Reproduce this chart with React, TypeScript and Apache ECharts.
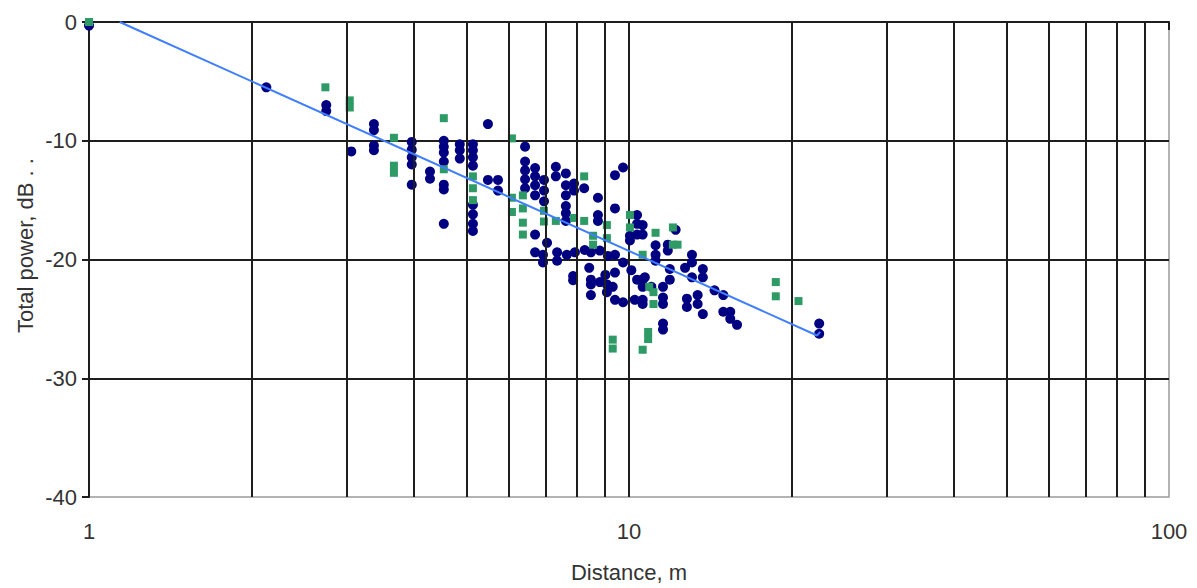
import React, { useEffect, useRef } from "react";
import * as echarts from "echarts";

// Measured points, series A (navy): [distance m, total power dB]
const seriesA: number[][] = [
  [1, -0.3], [2.13, -5.5], [2.75, -7.0], [2.75, -7.5], [3.06, -10.9],
  [3.37, -8.6], [3.37, -9.1], [3.37, -10.4], [3.37, -10.8],
  [3.96, -10.1], [3.96, -10.75], [3.96, -11.4], [3.96, -12.0], [3.96, -13.7],
  [4.28, -12.6], [4.28, -13.2],
  [4.54, -10.0], [4.54, -10.5], [4.54, -11.0], [4.54, -11.75], [4.54, -13.7], [4.54, -14.1], [4.54, -17.0],
  [4.86, -10.3], [4.86, -10.8], [4.86, -11.5],
  [5.14, -10.3], [5.14, -10.8], [5.14, -11.4], [5.14, -12.1], [5.14, -15.4], [5.14, -16.2], [5.14, -17.0], [5.14, -17.6],
  [5.48, -8.6], [5.48, -13.3], [5.72, -13.3], [5.72, -14.2],
  [6.42, -10.5], [6.42, -11.75], [6.42, -12.5], [6.42, -13.25], [6.42, -14.0],
  [6.7, -12.3], [6.7, -13.0], [6.7, -13.75], [6.7, -14.6], [6.7, -17.9], [6.7, -19.4],
  [6.96, -13.3], [6.96, -14.2], [6.96, -15.1], [7.05, -18.6], [6.93, -19.6], [6.93, -20.25],
  [7.32, -12.2], [7.32, -13.0], [7.36, -19.4], [7.36, -20.1],
  [7.64, -12.75], [7.64, -13.75], [7.64, -14.6], [7.64, -15.5], [7.64, -16.1], [7.64, -16.75], [7.67, -19.6],
  [7.91, -13.6], [7.91, -14.2], [7.94, -19.4], [7.88, -21.4], [7.88, -21.75],
  [8.26, -14.0], [8.28, -19.2],
  [8.44, -20.7], [8.5, -19.4], [8.5, -21.7], [8.5, -22.1], [8.5, -23.0],
  [8.76, -14.8], [8.76, -16.25], [8.76, -16.75], [8.83, -19.25], [8.83, -21.9],
  [9.04, -21.3], [9.1, -22.1], [9.1, -22.75], [9.14, -19.7],
  [9.42, -12.9], [9.75, -12.25], [9.42, -15.7], [9.42, -19.6], [9.42, -21.1], [9.33, -22.3], [9.42, -23.4],
  [9.75, -20.25], [9.75, -23.6],
  [10.04, -18.0], [10.04, -18.4], [10.1, -20.9],
  [10.35, -16.25], [10.35, -17.0], [10.35, -17.9], [10.35, -21.7], [10.25, -23.4],
  [10.6, -17.1], [10.6, -17.9], [10.6, -21.7], [10.6, -22.3], [10.6, -23.4], [10.6, -23.75],
  [10.7, -21.5], [11.0, -22.3],
  [11.2, -18.8], [11.2, -19.6], [11.2, -20.1],
  [11.56, -22.3], [11.56, -23.2], [11.56, -23.75], [11.56, -25.4], [11.56, -25.9],
  [11.8, -18.75], [11.8, -19.25], [11.9, -20.8], [11.9, -21.7],
  [12.2, -17.5], [12.7, -20.7],
  [13.08, -19.6], [13.08, -20.25], [13.08, -21.5],
  [12.8, -23.3], [12.8, -24.0], [13.4, -23.0], [13.4, -23.75],
  [13.7, -20.8], [13.7, -21.5], [13.7, -24.6],
  [14.4, -22.6], [14.95, -23.0], [14.95, -24.4],
  [15.4, -24.4], [15.4, -25.0], [15.85, -25.5],
  [22.5, -25.4], [22.5, -26.25],
];

// Measured points, series B (green squares)
const seriesB: number[][] = [
  [1, 0], [2.74, -5.5], [3.04, -6.6], [3.04, -7.2],
  [3.67, -9.75], [3.67, -12.1], [3.67, -12.7],
  [4.54, -8.1], [4.54, -12.4],
  [5.14, -13.0], [5.14, -14.0], [5.14, -15.0],
  [6.07, -9.8], [6.07, -14.8], [6.07, -16.0],
  [6.36, -14.6], [6.36, -15.7], [6.36, -16.9], [6.36, -17.9],
  [6.96, -15.9], [6.96, -16.8], [7.32, -16.75], [7.91, -16.5],
  [8.26, -13.0], [8.26, -16.75],
  [8.58, -18.0], [8.58, -18.75], [9.1, -17.1], [9.1, -18.2],
  [9.33, -26.75], [9.33, -27.5],
  [10.04, -16.25], [10.04, -17.3],
  [10.6, -19.6], [10.6, -27.6], [10.85, -26.1], [10.85, -26.7],
  [10.9, -22.3], [11.1, -22.75], [11.1, -23.75],
  [11.2, -17.75], [12.06, -17.3], [12.06, -18.75], [12.3, -18.75],
  [18.7, -21.9], [18.7, -23.1], [20.6, -23.5],
];

// Fitted trend line
const trendLine: number[][] = [
  [1.14, 0], [22.3, -26.4], [22.6, -26.1],
];

// Vertical minor grid positions on the log axis
const minorGridX: number[] = [2, 3, 4, 5, 6, 7, 8, 9, 20, 30, 40, 50, 60, 70, 80, 90];

const xTickLabels: string[] = ["1", "10", "100"];
const yAxisTitle = "Total power, dB . .";
const xAxisTitle = "Distance, m";

const FONT = "'Liberation Sans', Arial, sans-serif";
const TEXT_COLOR = "#333";
const GRID_COLOR = "#1e1e1e";

export default function App() {
  const ref = useRef<HTMLDivElement>(null);
  useEffect(() => {
    if (!ref.current) return;
    const chart = echarts.init(ref.current, undefined, { renderer: "svg" });
    chart.setOption({
      animation: false,
      backgroundColor: "#fff",
      grid: {
        left: 89, top: 22, width: 1080, height: 480,
        show: true, borderColor: "#9a9a9a", borderWidth: 1.5, backgroundColor: "transparent",
      },
      xAxis: {
        type: "log", logBase: 10, min: 1, max: 100,
        name: xAxisTitle, nameLocation: "middle", nameGap: 64,
        nameTextStyle: { fontFamily: FONT, fontSize: 22, color: TEXT_COLOR },
        axisLine: { show: true, lineStyle: { color: GRID_COLOR, width: 2 } },
        axisTick: { show: true, length: 8, lineStyle: { color: GRID_COLOR, width: 2 } },
        axisLabel: {
          fontFamily: FONT, fontSize: 22, color: TEXT_COLOR, margin: 23,
          formatter: (v: number) => {
            const s = String(Math.round(v));
            return xTickLabels.indexOf(s) >= 0 ? s : "";
          },
        },
        splitLine: { show: true, showMinLine: false, showMaxLine: false, lineStyle: { color: GRID_COLOR, width: 2 } },
      },
      yAxis: {
        type: "value", min: -40, max: 0, interval: 10,
        axisLine: { show: true, lineStyle: { color: GRID_COLOR, width: 2 } },
        axisTick: { show: true, length: 7, lineStyle: { color: GRID_COLOR, width: 2 } },
        axisLabel: { fontFamily: FONT, fontSize: 22, color: TEXT_COLOR, margin: 12 },
        splitLine: { show: true, showMinLine: false, showMaxLine: false, lineStyle: { color: GRID_COLOR, width: 2 } },
      },
      graphic: [
        {
          type: "text", x: 25, y: 333, rotation: Math.PI / 2,
          style: {
            text: yAxisTitle, fill: TEXT_COLOR, fontFamily: FONT, fontSize: 22,
            align: "left", verticalAlign: "middle",
          },
        },
      ],
      series: [
        {
          type: "scatter", data: [], z: 1, silent: true,
          markLine: {
            silent: true, symbol: "none", label: { show: false },
            lineStyle: { color: GRID_COLOR, width: 2, type: "solid" },
            data: minorGridX.map((v) => ({ xAxis: v })),
          },
        },
        {
          name: "A", type: "scatter", data: seriesA, z: 3,
          symbol: "circle", symbolSize: 10,
          itemStyle: { color: "#000080", opacity: 1 },
        },
        {
          name: "B", type: "scatter", data: seriesB, z: 4,
          symbol: "rect", symbolSize: [8, 8],
          itemStyle: { color: "#2e9a66", opacity: 1 },
        },
        {
          name: "Trend", type: "line", data: trendLine, z: 5,
          symbol: "none", lineStyle: { color: "#3f7fff", width: 2 },
        },
      ],
    });
    return () => chart.dispose();
  }, []);
  return (
    <div
      ref={ref}
      style={{ position: "fixed", left: 0, top: 0, width: 1197, height: 588 }}
    />
  );
}
